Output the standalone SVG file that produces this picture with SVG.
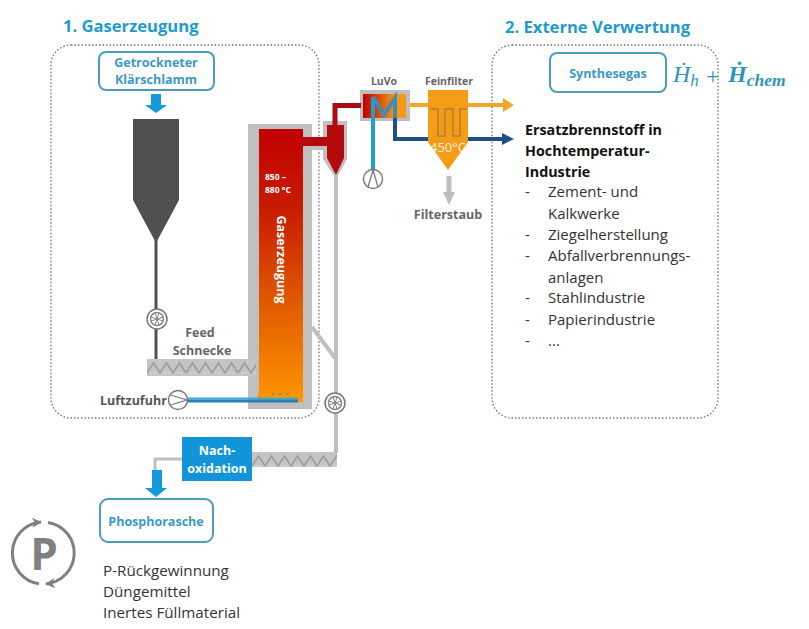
<svg xmlns="http://www.w3.org/2000/svg" width="809" height="629" viewBox="0 0 809 629">
<style>
text{font-family:"Open Sans","Noto Sans","Liberation Sans",sans-serif}
.h{font-size:16.6px;font-weight:700;fill:#1f9bcb}
.dot{fill:none;stroke:#777;stroke-width:1.4;stroke-dasharray:1.5 2}
.box{fill:#fff;stroke:#4a9dbd;stroke-width:2}
.bl{font-size:12.5px;font-weight:700;fill:#3a9ac4;text-anchor:middle}
.gl{font-size:12.5px;font-weight:700;fill:#666;text-anchor:middle}
.sm{font-size:10.5px;font-weight:700;fill:#666;text-anchor:middle}
.g{fill:none;stroke:#bfbfbf;stroke-linejoin:miter}
.t{font-size:15px;fill:#333}
.b{font-size:14.3px;font-weight:700;fill:#111}
.p{font-size:15.2px;fill:#333}
.w{fill:#fff;font-weight:700}
.m{font-family:"Liberation Serif","DejaVu Serif",serif;fill:#2e96b8;font-style:italic}
</style>
<defs>
<linearGradient id="gas" x1="0" y1="0" x2="0" y2="1"><stop offset="0" stop-color="#c00000"/><stop offset=".3" stop-color="#c81d00"/><stop offset=".65" stop-color="#e25c00"/><stop offset="1" stop-color="#ff9500"/></linearGradient>
<linearGradient id="luvo" x1="0" y1="0" x2="1" y2="0"><stop offset="0" stop-color="#c00000"/><stop offset=".75" stop-color="#f59a18"/><stop offset="1" stop-color="#f59a18"/></linearGradient>
<pattern id="zig" width="13" height="17" patternUnits="userSpaceOnUse"><path d="M0 14L6.500 4L13 14" fill="none" stroke="#9c9c9c" stroke-width="1.500"/><path d="M3 14H10" stroke="#d8d8d8" stroke-width="1"/></pattern>
<g id="fan"><circle r="10" fill="#fff" stroke="#777" stroke-width="1.5"/><circle r="6.5" fill="#fff" stroke="#888" stroke-width="1.5"/><path d="M-6-2L6 2M-6 2L6-2M-2-6L2 6M2-6L-2 6" stroke="#888" stroke-width="1"/></g>
<g id="pump"><circle r="9.500" fill="#fff" stroke="#777" stroke-width="1.4"/></g>
<marker id="ah" markerWidth="11" markerHeight="12" refX="9" refY="6" orient="auto" markerUnits="userSpaceOnUse"><path d="M0 1L10 6L0 11L3 6Z" fill="#808080"/></marker>
</defs>

<rect class="dot" x="51" y="45" width="268" height="373" rx="20"/>
<rect class="dot" x="492" y="45" width="226" height="373" rx="20"/>
<text class="h" x="63" y="32">1. Gaserzeugung</text>
<text class="h" x="505" y="33">2. Externe Verwertung</text>

<g id="luvo-hx">
<rect x="360" y="90" width="50" height="31" fill="#bfbfbf"/>
<rect x="363" y="94" width="43" height="24" fill="url(#luvo)"/>
<path d="M373 97L384 115L395 98V118" fill="none" stroke="#3f8cb8" stroke-width="4"/>
<text class="sm" x="384" y="85">LuVo</text>
</g>
<g id="gasifier">
<path d="M248 124H312V409H248Z" fill="#bfbfbf"/>
<rect x="259" y="129" width="44" height="273" fill="url(#gas)"/>
<rect x="258" y="393" width="45" height="9" fill="#ff9500"/>
<path d="M272 393h3v2h-3zM279 393h3v2h-3zM286 393h3v2h-3z" fill="#a88a50"/>
<text class="w" x="265" y="180" font-size="8.500">850 –</text>
<text class="w" x="265" y="193" font-size="8.500">880 °C</text>
<text class="w" font-size="12.500" text-anchor="middle" transform="translate(276.500,259.500) rotate(90)">Gaserzeugung</text>
</g>
<g id="cyclone">
<path d="M312 146H327V150H312Z" fill="#bfbfbf"/>
<path d="M323 121H347V159L336 179L323 159Z" fill="#bfbfbf"/>
<path d="M302 137H327V125H344V158L336 175L327 158V146H302Z" fill="#b40a0e"/>
</g>

<g id="connectors">
<path d="M156 240V360" stroke="#505050" stroke-width="3" fill="none"/>
<path class="g" stroke-width="4" d="M336 176V453"/>
<path class="g" stroke-width="4" d="M312 327L335 358"/>
<path class="g" stroke-width="3" d="M182 459H155V471"/>
<path d="M335 127V105.500H361" fill="none" stroke="#a80d12" stroke-width="5"/>
<path d="M410 105H505" fill="none" stroke="#f3a62a" stroke-width="4"/>
<path d="M503 98L514 105L503 112Z" fill="#f3a62a"/>
<path d="M395 118V139H504" fill="none" stroke="#1f4f88" stroke-width="4"/>
<path d="M502 133L514 139L502 145Z" fill="#1f4f88"/>
<path d="M373 97V171" fill="none" stroke="#1e9fd0" stroke-width="4"/>
<path d="M187 398.500H298" stroke="#2eb0dc" stroke-width="2"/>
<path d="M187 401H298" stroke="#2a7fb5" stroke-width="3"/>
<path d="M449 176V193" stroke="#bfbfbf" stroke-width="5"/>
<path d="M443 192H455L449 205Z" fill="#bfbfbf"/>
<path d="M151 94H161V105H167L156 113L145 105H151Z" fill="#1598dc"/>
<path d="M152 470H162V488H167L156 497L145 488H152Z" fill="#1598dc"/>
</g>

<g id="feed-box"><rect class="box" x="99" y="52" width="115" height="38" rx="7"/><text class="bl" x="156" y="67">Getrockneter</text><text class="bl" x="156" y="84">Klärschlamm</text></g>
<g id="hopper"><path d="M133 119H179V200L156 243L133 200Z" fill="#505050"/></g>
<g id="fan-feed"><use href="#fan" x="157" y="319"/></g>
<g id="feed-label"><text class="gl" x="200" y="337">Feed</text><text class="gl" x="202" y="355">Schnecke</text></g>
<g id="feed-screw" transform="translate(147,359)"><rect width="109" height="17" fill="#c4c4c4"/><rect width="109" height="17" fill="url(#zig)"/></g>
<g id="air-label"><text x="100" y="405" font-size="12.500" font-weight="700" fill="#555">Luftzufuhr</text></g>
<g id="pump-air"><use href="#pump" x="178" y="400"/><path d="M170.500 395L187 400L170.500 405" fill="none" stroke="#777" stroke-width="1.3"/></g>
<g id="pump-luvo"><use href="#pump" x="373" y="179"/><path d="M368 187L373 170L378 187" fill="none" stroke="#777" stroke-width="1.3"/></g>
<g id="filter">
<path d="M428 90H468V142L448 170L428 142Z" fill="#f59c17"/>
<path d="M431 109H438V136H445V109H453V136H460V109H467" fill="none" stroke="#b07f30" stroke-width="1.500"/>
<text x="448" y="152" font-size="13" fill="#fff" fill-opacity=".9" text-anchor="middle">450°C</text>
<text class="sm" x="449" y="85">Feinfilter</text>
</g>
<g id="filterstaub"><text class="gl" x="448" y="219">Filterstaub</text></g>
<g id="fan-ash"><use href="#fan" x="335" y="403"/></g>
<g id="ash-screw" transform="translate(252,452)"><rect width="85" height="15" fill="#c4c4c4"/><rect width="85" height="15" fill="url(#zig)"/></g>
<g id="nachox"><rect x="182" y="437" width="70" height="44" fill="#1295d8"/><text class="w" x="217" y="455" font-size="12.500" text-anchor="middle">Nach-</text><text class="w" x="217" y="473" font-size="12.500" text-anchor="middle">oxidation</text></g>
<g id="phosphorasche"><rect class="box" x="100" y="499" width="113" height="43" rx="8"/><text class="bl" x="156" y="526">Phosphorasche</text></g>
<g id="p-icon" fill="none" stroke="#808080" stroke-width="3">
<path d="M48 522.400A31 31 0 0 1 46 583.900" marker-end="url(#ah)"/>
<path d="M39 583.700A31 31 0 0 1 41 522.100" marker-end="url(#ah)"/>
<text x="44" y="570" font-size="44" font-weight="700" fill="#808080" stroke="none" text-anchor="middle">P</text>
</g>
<g id="uses"><text class="p" x="103" y="576">P-Rückgewinnung</text><text class="p" x="103" y="597">Düngemittel</text><text class="p" x="103" y="618">Inertes Füllmaterial</text></g>
<g id="syngas"><rect class="box" x="550" y="53" width="116" height="39" rx="7"/><text class="bl" x="608" y="78">Synthesegas</text>
<text class="m" x="673" y="82" font-size="24">Ḣ<tspan font-size="17" dy="4">h</tspan></text>
<text class="m" x="706" y="84" font-size="24" style="font-style:normal">+</text>
<text class="m" x="728" y="82" font-size="24" font-weight="700">Ḣ<tspan font-size="17.500" dy="4">chem</tspan></text>
</g>
<g id="uses-right">
<text class="b" x="525" y="135">Ersatzbrennstoff in</text><text class="b" x="525" y="156">Hochtemperatur-</text><text class="b" x="525" y="177">Industrie</text>
<text class="t" x="525" y="197">-</text><text class="t" x="548" y="197">Zement- und</text><text class="t" x="548" y="219">Kalkwerke</text>
<text class="t" x="525" y="240">-</text><text class="t" x="548" y="240">Ziegelherstellung</text>
<text class="t" x="525" y="261">-</text><text class="t" x="548" y="261">Abfallverbrennungs-</text><text class="t" x="548" y="283">anlagen</text>
<text class="t" x="525" y="303">-</text><text class="t" x="548" y="303">Stahlindustrie</text>
<text class="t" x="525" y="325">-</text><text class="t" x="548" y="325">Papierindustrie</text>
<text class="t" x="525" y="346">-</text><text class="t" x="548" y="346">...</text>
</g>
</svg>
